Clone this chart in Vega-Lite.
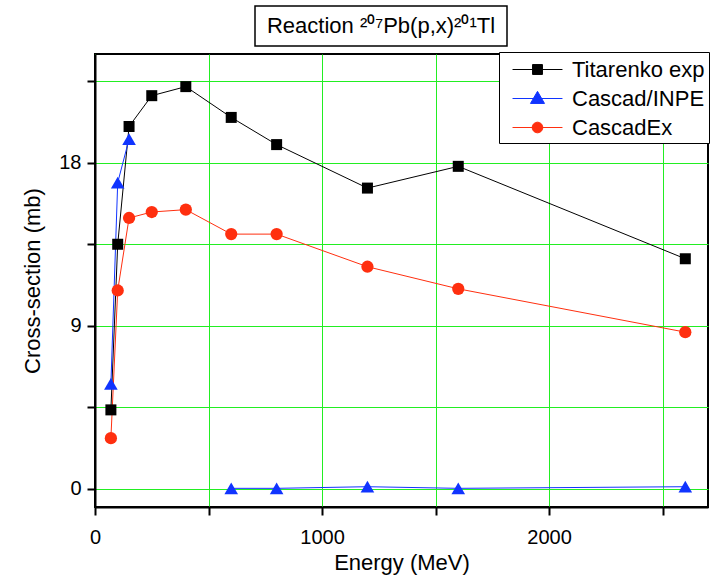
{
  "$schema": "https://vega.github.io/schema/vega-lite/v6.json",
  "background": "white",
  "padding": {"left": 20, "top": 5, "right": 5, "bottom": 3},
  "spacing": 6,
  "config": {
    "font": "Liberation Sans",
    "view": {"stroke": "black", "strokeWidth": 2},
    "axis": {
      "domainColor": "black", "domainWidth": 2,
      "tickColor": "black", "tickWidth": 2, "tickSize": 8,
      "labelFont": "Liberation Sans", "labelFontSize": 20, "labelColor": "black",
      "titleFont": "Liberation Sans", "titleFontSize": 22, "titleFontWeight": "normal", "titleColor": "black",
      "gridColor": "#22ee22", "gridWidth": 1, "gridOpacity": 1
    }
  },
  "vconcat": [
    {
      "spacing": 10,
      "hconcat": [
        {
          "width": 148,
          "height": 40,
          "view": {"stroke": "transparent"},
          "data": {"values": [{"label": ""}]},
          "mark": {"type": "text"},
          "encoding": {"text": {"field": "label"}}
        },
        {
          "width": 252,
          "height": 40,
          "view": {"stroke": "black", "strokeWidth": 1.5},
          "data": {"values": [{"label": "Reaction ²⁰⁷Pb(p,x)²⁰¹Tl"}]},
          "mark": {"type": "text", "font": "Liberation Sans", "fontSize": 22, "baseline": "middle", "align": "center", "color": "black"},
          "encoding": {"text": {"field": "label"}}
        }
      ]
    },
    {
      "width": 613,
      "height": 453,
      "data": {"values": [
        {"series": "Titarenko exp", "seg": "T", "energy": 70, "xs": 4.36},
        {"series": "Titarenko exp", "seg": "T", "energy": 100, "xs": 13.5},
        {"series": "Titarenko exp", "seg": "T", "energy": 150, "xs": 20.0},
        {"series": "Titarenko exp", "seg": "T", "energy": 250, "xs": 21.7},
        {"series": "Titarenko exp", "seg": "T", "energy": 400, "xs": 22.2},
        {"series": "Titarenko exp", "seg": "T", "energy": 600, "xs": 20.5},
        {"series": "Titarenko exp", "seg": "T", "energy": 800, "xs": 19.0},
        {"series": "Titarenko exp", "seg": "T", "energy": 1200, "xs": 16.6},
        {"series": "Titarenko exp", "seg": "T", "energy": 1600, "xs": 17.8},
        {"series": "Titarenko exp", "seg": "T", "energy": 2600, "xs": 12.7},
        {"series": "Cascad/INPE", "seg": "C1", "energy": 70, "xs": 5.8},
        {"series": "Cascad/INPE", "seg": "C1", "energy": 100, "xs": 16.9},
        {"series": "Cascad/INPE", "seg": "C1", "energy": 150, "xs": 19.3},
        {"series": "Cascad/INPE", "seg": "C2", "energy": 600, "xs": 0.03},
        {"series": "Cascad/INPE", "seg": "C2", "energy": 800, "xs": 0.03},
        {"series": "Cascad/INPE", "seg": "C2", "energy": 1200, "xs": 0.12},
        {"series": "Cascad/INPE", "seg": "C2", "energy": 1600, "xs": 0.03},
        {"series": "Cascad/INPE", "seg": "C2", "energy": 2600, "xs": 0.12},
        {"series": "CascadEx", "seg": "E", "energy": 70, "xs": 2.8},
        {"series": "CascadEx", "seg": "E", "energy": 100, "xs": 10.95},
        {"series": "CascadEx", "seg": "E", "energy": 150, "xs": 14.95},
        {"series": "CascadEx", "seg": "E", "energy": 250, "xs": 15.28},
        {"series": "CascadEx", "seg": "E", "energy": 400, "xs": 15.41},
        {"series": "CascadEx", "seg": "E", "energy": 600, "xs": 14.06},
        {"series": "CascadEx", "seg": "E", "energy": 800, "xs": 14.06},
        {"series": "CascadEx", "seg": "E", "energy": 1200, "xs": 12.26},
        {"series": "CascadEx", "seg": "E", "energy": 1600, "xs": 11.04},
        {"series": "CascadEx", "seg": "E", "energy": 2600, "xs": 8.65}
      ]},
      "encoding": {
        "x": {
          "field": "energy", "type": "quantitative",
          "scale": {"domain": [0, 2700], "nice": false, "zero": false},
          "axis": {
            "title": "Energy (MeV)", "values": [0, 500, 1000, 1500, 2000, 2500],
            "format": "d", "labelExpr": "datum.value % 1000 === 0 ? datum.label : ''",
            "labelFlush": false, "labelOverlap": false, "labelPadding": 12, "titlePadding": 5
          }
        },
        "y": {
          "field": "xs", "type": "quantitative",
          "scale": {"domain": [-1, 24], "nice": false, "zero": false},
          "axis": {
            "title": "Cross-section (mb)", "values": [0, 4.5, 9, 13.5, 18, 22.5],
            "labelExpr": "datum.value % 9 === 0 ? format(datum.value, 'd') : ''",
            "labelOverlap": false, "labelPadding": 6, "titlePadding": 14
          }
        },
        "color": {
          "field": "series", "type": "nominal",
          "scale": {"domain": ["Titarenko exp", "Cascad/INPE", "CascadEx"], "range": ["#000000", "#1034ff", "#ff2f0f"]},
          "legend": {
            "orient": "none", "legendX": 404, "legendY": 46,
            "title": null,
            "labelFont": "Liberation Sans", "labelFontSize": 22, "labelColor": "black", "labelLimit": 300,
            "symbolSize": 676, "symbolOffset": 21, "labelOffset": 21,
            "padding": 4, "rowPadding": 4,
            "strokeColor": "black", "fillColor": "white", "cornerRadius": 0,
            "encode": {
              "symbols": {
                "update": {
                  "shape": {"signal": "datum.value === 'Titarenko exp' ? 'M-1.92,0H1.92M-0.38,-0.38H0.38V0.38H-0.38Z' : datum.value === 'Cascad/INPE' ? 'M-1.92,0H1.92M0,-0.55L0.54,0.38L-0.54,0.38Z' : 'M-1.92,0H1.92M-0.41,0A0.41,0.41 0 1,1 0.41,0A0.41,0.41 0 1,1 -0.41,0Z'"},
                  "fill": {"scale": "color", "field": "value"},
                  "stroke": {"scale": "color", "field": "value"},
                  "strokeWidth": {"value": 1},
                  "opacity": {"value": 1}
                }
              }
            }
          }
        }
      },
      "layer": [
        {
          "mark": {"type": "line", "strokeWidth": 1},
          "encoding": {"detail": {"field": "seg"}}
        },
        {
          "transform": [{"filter": "datum.series === 'Titarenko exp'"}],
          "mark": {"type": "square", "size": 121, "opacity": 1}
        },
        {
          "transform": [{"filter": "datum.series === 'Cascad/INPE'"}],
          "mark": {"type": "point", "shape": "triangle-up", "filled": true, "size": 185, "opacity": 1}
        },
        {
          "transform": [{"filter": "datum.series === 'CascadEx'"}],
          "mark": {"type": "circle", "size": 150, "opacity": 1}
        }
      ]
    }
  ]
}
